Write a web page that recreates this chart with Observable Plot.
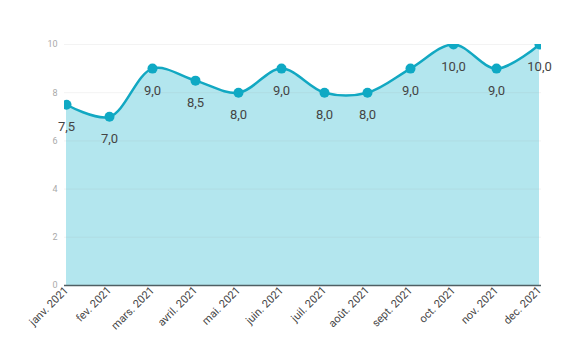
<!DOCTYPE html>
<html><head><meta charset="utf-8">
<script src="https://cdn.jsdelivr.net/npm/d3@7"></script>
<script src="https://cdn.jsdelivr.net/npm/@observablehq/plot@0.6"></script>
<style>body{margin:0;background:#fff;font-family:Roboto,sans-serif}</style>
</head><body><div id="chart"></div>
<script>
const months = ["janv. 2021","fev. 2021","mars. 2021","avril. 2021","mai. 2021","juin. 2021","juil. 2021","août. 2021","sept. 2021","oct. 2021","nov. 2021","dec. 2021"];
const values = [7.5,7.0,9.0,8.5,8.0,9.0,8.0,8.0,9.0,10.0,9.0,10.0];
const yTicks = [0,2,4,6,8,10];
const data = months.map((m,i)=>({m, v: values[i]}));
const fmt = v => v.toFixed(1).replace(".", ",");
const chart = Plot.plot({
  width: 570, height: 351,
  marginTop: 44, marginBottom: 66, marginLeft: 64, marginRight: 29,
  style: {fontFamily: "Roboto, sans-serif", background: "#fff"},
  x: {type: "point", domain: months, padding: 0, label: null},
  y: {domain: [0, 10], label: null},
  marks: [
    Plot.areaY(data, {x: "m", y: "v", curve: "catmull-rom", fill: "#b3e6ee", clip: true}),
    Plot.gridY(yTicks, {stroke: "#999", strokeOpacity: 0.12}),
    Plot.axisY(yTicks, {tickSize: 0, tickPadding: 7, fontSize: 9, fill: "#aaa", tickFormat: d => d}),
    Plot.axisX({tickSize: 0, tickRotate: -45, fontSize: 11, fill: "#444", tickPadding: 3}),
    Plot.ruleY([0], {stroke: "#4f5f63", strokeWidth: 1.5}),
    Plot.lineY(data, {x: "m", y: "v", curve: "catmull-rom", stroke: "#12a8c2", strokeWidth: 2.5, clip: true}),
    Plot.dot(data, {x: "m", y: "v", r: 5, fill: "#0fa9c4", clip: true}),
    Plot.text(data, {x: "m", y: "v", text: d => fmt(d.v), dy: 22, fontSize: 13, fill: "#444"})
  ]
});
document.getElementById("chart").append(chart);
</script></body></html>
